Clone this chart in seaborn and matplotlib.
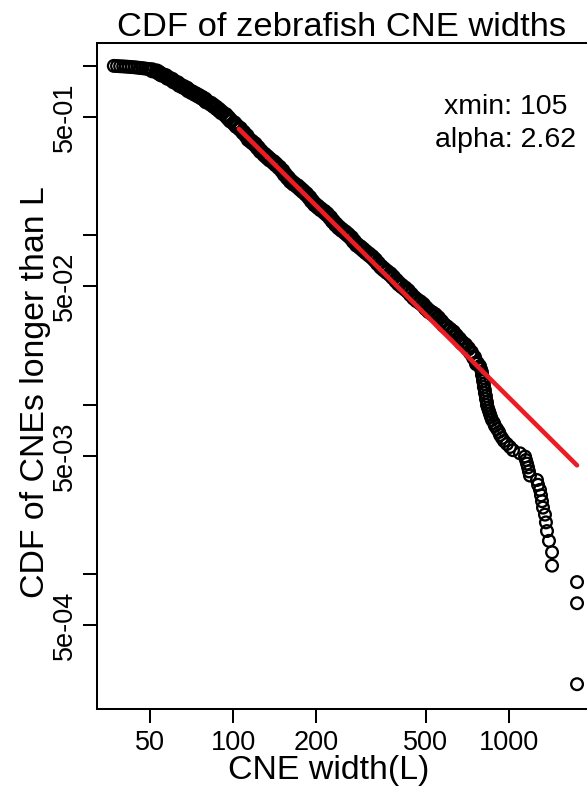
import numpy as np
import pandas as pd
import matplotlib
matplotlib.use("Agg")
import matplotlib.pyplot as plt
from matplotlib.ticker import NullLocator
import seaborn as sns

sns.set_style("ticks")
plt.rcParams['font.family'] = ['Liberation Sans', 'DejaVu Sans']
plt.rcParams.update({"text.color": "black", "axes.labelcolor": "black",
                     "xtick.color": "black", "ytick.color": "black",
                     "axes.edgecolor": "black"})

# ---- data ----
width_head = [37, 38, 39, 40, 41, 42, 43, 44, 45, 46, 47, 48, 49, 50]
cdf_head = [1.0, 0.998, 0.995, 0.993, 0.99, 0.987, 0.984, 0.981, 0.977, 0.973,
            0.969, 0.965, 0.96, 0.955]

width_rise = [51, 53, 54, 55, 57, 58, 60, 61, 63, 64, 66, 68, 69, 71, 73, 75, 77,
              79, 80, 83, 85, 87, 89, 91, 94, 96, 98, 101, 103, 106]
cdf_rise = [0.9420, 0.9268, 0.9081, 0.8898, 0.8717, 0.8507, 0.8301, 0.8100, 0.7905,
            0.7714, 0.7528, 0.7346, 0.7168, 0.6995, 0.6826, 0.6661, 0.6500, 0.6343,
            0.6173, 0.5991, 0.5823, 0.5659, 0.5492, 0.5316, 0.5132, 0.4941, 0.4757,
            0.4585, 0.4418, 0.4259]

width_body = [109, 112, 114, 117, 120, 123, 126, 130, 133, 136, 140, 143, 147, 151,
              154, 158, 162, 166, 171, 175, 179, 184, 189, 193, 198, 203, 208, 214,
              219, 225, 230, 236, 242, 248, 255, 261, 268, 274, 281, 289, 296, 303,
              311, 319, 327, 335, 344, 352, 361, 371, 380, 390, 399, 409, 420, 430,
              441, 453, 464, 476, 488, 500, 513, 526, 539, 553, 567, 581, 596, 611,
              627, 642, 659, 675, 693, 710, 728, 747, 765]
cdf_body = [0.4049, 0.3863, 0.3686, 0.3565, 0.3448, 0.3290, 0.3139, 0.2995, 0.2897, 0.2802,
            0.2710, 0.2622, 0.2518, 0.2403, 0.2293, 0.2187, 0.2087, 0.2019, 0.1953, 0.1888,
            0.1827, 0.1755, 0.1674, 0.1597, 0.1524, 0.1474, 0.1426, 0.1379, 0.1334, 0.1273,
            0.1214, 0.1159, 0.1113, 0.1077, 0.1041, 0.1007, 0.09675, 0.09232, 0.08808, 0.08519,
            0.08240, 0.07970, 0.07708, 0.07455, 0.07162, 0.06833, 0.06521, 0.06306, 0.06099, 0.05900,
            0.05667, 0.05407, 0.05195, 0.05024, 0.04859, 0.04700, 0.04484, 0.04279, 0.04139, 0.04030,
            0.03898, 0.03719, 0.03573, 0.03479, 0.03388, 0.03255, 0.03105, 0.02963, 0.02866, 0.02772,
            0.02681, 0.02558, 0.02441, 0.02329, 0.02253, 0.02149, 0.02037, 0.01904, 0.01756]

width_drop = [785, 791, 798, 798, 805, 805, 811, 811, 818, 818, 825, 825, 832, 832,
              839, 846, 853, 860, 868, 882, 890, 905, 920, 928, 943, 959, 983, 1008]
cdf_drop = [0.01696, 0.01628, 0.01563, 0.01501, 0.01441, 0.01384, 0.01328, 0.01275,
            0.01224, 0.01175, 0.01128, 0.01083, 0.01040, 0.009986, 0.009588, 0.009205,
            0.008837, 0.008485, 0.008146, 0.007821, 0.007509, 0.007209, 0.006921,
            0.006645, 0.006380, 0.006125, 0.005881, 0.005646]

width_tail = [1034, 1096, 1143, 1152, 1162, 1172, 1181, 1191, 1263, 1274, 1295, 1306,
              1317, 1328, 1350, 1361, 1373, 1396, 1432, 1432, 1764, 1764, 1764]
cdf_tail = [0.005405, 0.00518, 0.004955, 0.00473, 0.004505, 0.004279, 0.004054,
            0.003829, 0.003604, 0.003378, 0.003153, 0.002928, 0.002703, 0.002477,
            0.002252, 0.002027, 0.001802, 0.001577, 0.001351, 0.001126, 0.000901,
            0.000676, 0.000225]

# power-law fit (from the annotation) and its value at xmin
fit_xmin = 105
fit_alpha = 2.62
fit_p_at_xmin = 0.425

x_ticks = [50, 100, 200, 500, 1000]
x_ticklabels = ["50", "100", "200", "500", "1000"]
y_ticks = [1.0, 0.5, 0.1, 0.05, 0.01, 0.005, 0.001, 0.0005]
y_ticklabels = ["", "5e-01", "", "5e-02", "", "5e-03", "", "5e-04"]

title = "CDF of zebrafish CNE widths"
xlabel = "CNE width(L)"
ylabel = "CDF of CNEs longer than L"

# ---- build frames ----
dense_df = pd.DataFrame({"width": width_rise + width_body,
                         "cdf": cdf_rise + cdf_body})
sparse_df = pd.DataFrame({"width": width_head + width_drop + width_tail,
                          "cdf": cdf_head + cdf_drop + cdf_tail})
max_width = max(width_tail)
fit_x = np.geomspace(fit_xmin, max_width, 60)
fit_df = pd.DataFrame({"width": fit_x,
                       "cdf": fit_p_at_xmin * (fit_x / fit_xmin) ** (1 - fit_alpha)})

# ---- figure ----
fig = plt.figure(figsize=(5.87, 7.90), dpi=100)
ax = fig.add_axes([0.1644, 0.1025, 0.8492, 0.8437])
ax.set_xscale("log")
ax.set_yscale("log")

# densely overlapping part of the curve (reads as a solid band)
sns.scatterplot(data=dense_df, x="width", y="cdf", ax=ax, marker="o", s=80,
                facecolor="none", edgecolor="black", linewidth=2.6,
                legend=False, zorder=2)
sns.scatterplot(data=sparse_df, x="width", y="cdf", ax=ax, marker="o", s=71,
                facecolor="none", edgecolor="black", linewidth=1.65,
                legend=False, zorder=2)
sns.lineplot(data=fit_df, x="width", y="cdf", ax=ax, color="#ec1c24",
             linewidth=3.3, zorder=3)

ax.set_xlim(32.02, 2049)
ax.set_ylim(1.606e-4, 1.374)

ax.set_xticks(x_ticks)
ax.set_xticklabels(x_ticklabels)
ax.set_yticks(y_ticks)
ax.set_yticklabels(y_ticklabels)
ax.xaxis.set_minor_locator(NullLocator())
ax.yaxis.set_minor_locator(NullLocator())

ax.tick_params(axis="both", which="major", length=10, width=1.45,
               labelsize=19.5, color="black", labelcolor="black",
               direction="out")
ax.tick_params(axis="x", pad=5.3)
ax.tick_params(axis="y", pad=3.6, labelrotation=90)
for lab in ax.get_yticklabels():
    lab.set_verticalalignment("center")

for sp in ax.spines.values():
    sp.set_linewidth(1.45)
    sp.set_color("black")

ax.set_title(title, fontsize=24.8, pad=4.7, x=0.4915, color="black")
ax.set_xlabel(xlabel, fontsize=24.4, va="center", color="black")
ax.xaxis.set_label_coords(0.465, -0.0925)
ax.set_ylabel(ylabel, fontsize=24.4, va="center", color="black")
ax.yaxis.set_label_coords(-0.1214, 0.4756)

fig.text(505.5 / 587, 1 - 114 / 790, f"xmin: {fit_xmin}", ha="center",
         va="baseline", fontsize=20.5, color="black")
fig.text(505.5 / 587, 1 - 147 / 790, f"alpha: {fit_alpha}", ha="center",
         va="baseline", fontsize=20.5, color="black")

fig.savefig("out.png", dpi=100)
